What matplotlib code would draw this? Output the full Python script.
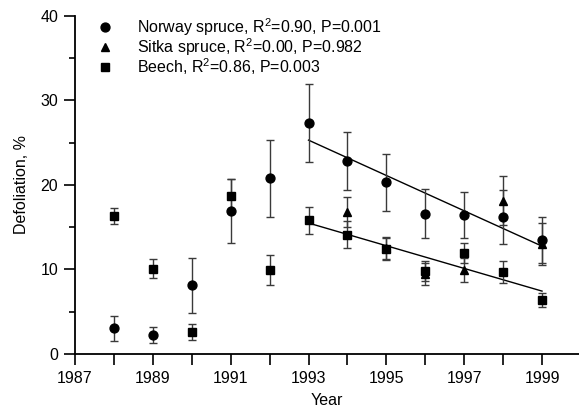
import numpy as np
import matplotlib

matplotlib.use("Agg")
import matplotlib.pyplot as plt
from matplotlib.lines import Line2D

plt.rcParams.update(
    {
        "font.family": ["Liberation Sans", "DejaVu Sans"],
        "font.size": 11.5,
        "mathtext.default": "regular",
    }
)

years = np.arange(1988, 2000)

# Norway spruce, mean defoliation and error bar half-width
norway = [3.05, 2.25, 8.1, 16.9, 20.75, 27.3, 22.8, 20.3, 16.6, 16.4, 16.2, 13.5]
norway_err = [1.5, 1.0, 3.2, 3.8, 4.5, 4.6, 3.4, 3.4, 2.9, 2.7, 3.2, 2.7]

# Beech
beech = [16.3, 10.1, 2.65, 18.7, 9.95, 15.8, 14.1, 12.45, 9.85, 11.9, 9.7, 6.4]
beech_err = [0.9, 1.1, 0.95, 2.0, 1.75, 1.6, 1.6, 1.3, 1.2, 1.2, 1.3, 0.8]

# Sitka spruce (1994 onwards)
sitka_years = np.arange(1994, 2000)
sitka = [16.8, 12.5, 9.5, 9.9, 18.1, 13.0]
sitka_err = [1.8, 1.3, 1.3, 1.4, 2.9, 2.5]

fit_start = 1993
labels = [
    "Norway spruce, R$^2$=0.90, P=0.001",
    "Sitka spruce, R$^2$=0.00, P=0.982",
    "Beech, R$^2$=0.86, P=0.003",
]
markers = [("o", 6.4), ("^", 6.0), ("s", 5.6)]

W, H = 579, 411
fig = plt.figure(figsize=(W / 100, H / 100), dpi=100)
ax = fig.add_axes([0.1295, 0.1387, 0.8705, 0.8233])

err_kw = dict(ls="none", ecolor="#3a3a3a", elinewidth=1.0, capsize=2.6,
              capthick=1.0, color="black", mec="black")

ax.errorbar(years, beech, yerr=beech_err, marker="s", ms=5.6, zorder=3, **err_kw)
ax.errorbar(sitka_years, sitka, yerr=sitka_err, marker="^", ms=6.0, zorder=3, **err_kw)
ax.errorbar(years, norway, yerr=norway_err, marker="o", ms=6.4, zorder=3, **err_kw)

# linear trends over 1993-1999
sel = years >= fit_start
for series in (norway, beech):
    y = np.asarray(series)[sel]
    slope, icpt = np.polyfit(years[sel], y, 1)
    xs = np.array([years[sel][0], years[sel][-1]])
    ax.plot(xs, slope * xs + icpt, color="black", lw=1.0, zorder=2)

ax.set_xlim(1987, 1999.95)
ax.set_ylim(0, 40)
ax.set_xticks(np.arange(1987, 2000))
ax.set_xticklabels([str(y) if y % 2 == 1 else "" for y in range(1987, 2000)])
ax.set_yticks([0, 10, 20, 30, 40])
ax.set_yticks(np.arange(5, 40, 10), minor=True)
ax.tick_params(axis="x", direction="out", length=8, width=1.2, pad=4)
ax.tick_params(axis="y", which="major", direction="out", length=8, width=1.2, pad=4)
ax.tick_params(axis="y", which="minor", direction="out", length=4, width=1.2)

for side in ("top", "right"):
    ax.spines[side].set_visible(False)
for side in ("left", "bottom"):
    ax.spines[side].set_linewidth(1.3)

ax.set_xlabel("Year", labelpad=5)
ax.set_ylabel("Defoliation, %", labelpad=8)

# key placed by hand in figure pixels: marker column, text column, rows
for i, (label, (mk, ms)) in enumerate(zip(labels, markers)):
    yrow = 1 - (27 + 20 * i) / H
    fig.add_artist(Line2D([105 / W], [yrow], marker=mk, ms=ms, color="black",
                          ls="none", transform=fig.transFigure))
    fig.text(137 / W, yrow, label, va="center", ha="left")

fig.savefig("out.png", dpi=100)
